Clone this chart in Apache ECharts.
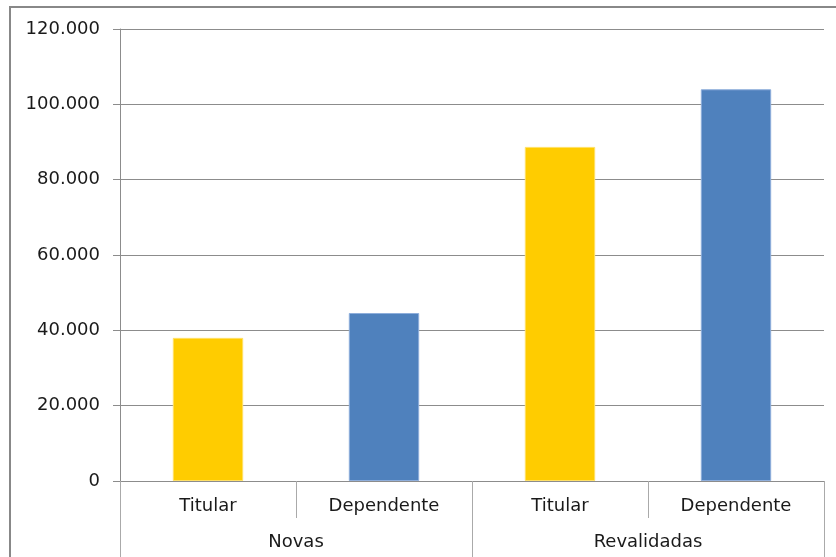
<!DOCTYPE html>
<html>
<head>
<meta charset="utf-8">
<script src="https://cdn.jsdelivr.net/npm/echarts@6/dist/echarts.min.js"></script>
<style>
html,body{margin:0;padding:0;background:#fff;}
#chart{width:836px;height:557px;}
</style>
</head>
<body>
<div id="chart"></div>
<script>
const categories = ['Titular', 'Dependente', 'Titular', 'Dependente'];
const groups = ['Novas', 'Revalidadas'];
const values = [38000, 44600, 88700, 104000];
const yTicks = [0, 20000, 40000, 60000, 80000, 100000, 120000];

const colorFor = { 'Titular': '#FFCC00', 'Dependente': '#4F81BD' };
const borderFor = { 'Titular': '#FFE066', 'Dependente': '#8EAEDB' };
const font = 'DejaVu Sans, sans-serif';
const gray = '#8C8C8C';

const chart = echarts.init(document.getElementById('chart'));
chart.setOption({
  animation: false,
  backgroundColor: '#fff',
  grid: { left: 120, right: 12, top: 29, bottom: 76, containLabel: false },
  graphic: [{
    type: 'rect',
    shape: { x: 10, y: 7, width: 900, height: 700 },
    style: { fill: 'none', stroke: '#888', lineWidth: 2 },
    silent: true
  }],
  xAxis: [{
    type: 'category',
    data: categories,
    position: 'bottom',
    axisLine: { show: true, lineStyle: { color: gray, width: 1 } },
    axisTick: { show: true, interval: 0, length: 37, lineStyle: { color: '#AAAAAA' } },
    axisLabel: { interval: 0, margin: 16, fontSize: 18, color: '#1a1a1a', fontFamily: font }
  }, {
    type: 'category',
    data: groups,
    position: 'bottom',
    axisLine: { show: false },
    axisTick: { show: true, interval: 0, length: 80, lineStyle: { color: '#AAAAAA' } },
    axisLabel: { interval: 0, margin: 52, fontSize: 18, color: '#1a1a1a', fontFamily: font }
  }],
  yAxis: {
    type: 'value',
    min: yTicks[0],
    max: yTicks[yTicks.length - 1],
    interval: 20000,
    axisLine: { show: true, lineStyle: { color: gray } },
    axisTick: { show: true, length: 7, lineStyle: { color: gray } },
    splitLine: { show: true, lineStyle: { color: gray } },
    axisLabel: {
      margin: 20, fontSize: 18, color: '#1a1a1a', fontFamily: font,
      formatter: v => v === 0 ? '0' : v.toLocaleString('de-DE').replace(/,/g, '.')
    }
  },
  series: [{
    type: 'bar',
    xAxisIndex: 0,
    barWidth: '40%',
    data: values.map((v, i) => ({
      value: v,
      itemStyle: { color: colorFor[categories[i]], borderColor: borderFor[categories[i]], borderWidth: 1 }
    }))
  }]
});
</script>
</body>
</html>
